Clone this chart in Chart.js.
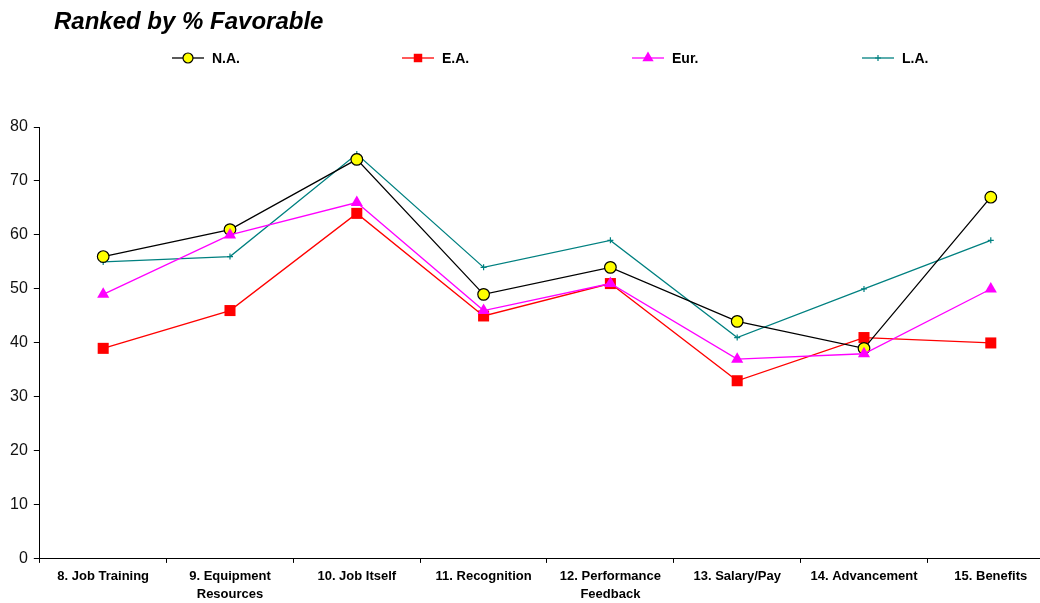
<!DOCTYPE html>
<html>
<head>
<meta charset="utf-8">
<script src="https://cdn.jsdelivr.net/npm/chart.js@4/dist/chart.umd.min.js"></script>
<style>
  html, body { margin:0; padding:0; background:#fff; overflow:hidden; }
  canvas { display:block; }
</style>
</head>
<body>
<canvas id="rankChart" width="1062" height="603"></canvas>
<script>
// ── DATA ──
const categories = [
  '8. Job Training', ['9. Equipment','Resources'], '10. Job Itself', '11. Recognition',
  ['12. Performance','Feedback'], '13. Salary/Pay', '14. Advancement', '15. Benefits'
];
const naValues  = [56, 61, 74, 49, 54, 44, 39, 67];
const eaValues  = [39, 46, 64, 45, 51, 33, 41, 40];
const eurValues = [49, 60, 66, 46, 51, 37, 38, 50];
const laValues  = [55, 56, 75, 54, 59, 41, 50, 59];
const yTicks    = [0, 10, 20, 30, 40, 50, 60, 70, 80];

const FONT = "'Liberation Sans', Arial, sans-serif";

// ── TITLE + LEGEND (drawn on canvas) ──
const headerPlugin = {
  id: 'header',
  afterDraw(chart) {
    const ctx = chart.ctx;
    ctx.save();
    ctx.fillStyle = '#000';
    ctx.font = `italic bold 24px ${FONT}`;
    ctx.textBaseline = 'alphabetic';
    ctx.textAlign = 'left';
    ctx.fillText('Ranked by % Favorable', 54, 29);

    const xs = [172, 402, 632, 862];
    const y  = 58;
    chart.data.datasets.forEach((ds, i) => {
      const x0 = xs[i];
      ctx.strokeStyle = ds.borderColor;
      ctx.lineWidth = 1.3;
      ctx.beginPath();
      ctx.moveTo(x0, y); ctx.lineTo(x0 + 32, y);
      ctx.stroke();
      ctx.fillStyle   = ds.pointBackgroundColor;
      ctx.strokeStyle = ds.pointBorderColor;
      ctx.lineWidth   = ds.pointBorderWidth;
      Chart.helpers.drawPoint(ctx, {
        pointStyle: ds.pointStyle, radius: ds.legendRadius, borderWidth: ds.pointBorderWidth
      }, x0 + 16, y);
      ctx.fillStyle = '#000';
      ctx.font = `bold 14px ${FONT}`;
      ctx.textBaseline = 'middle';
      ctx.fillText(ds.label, x0 + 40, y + 1);
    });
    ctx.restore();
  }
};

function mkSet(label, data, line, style, fill, border, r, lr, bw, order) {
  return {
    label, data, order,
    borderColor: line, borderWidth: 1.3, tension: 0,
    pointStyle: style, pointRadius: r, pointHoverRadius: r,
    pointBackgroundColor: fill, pointBorderColor: border, pointBorderWidth: bw,
    legendRadius: lr, fill: false
  };
}

const datasets = [
  mkSet('N.A.', naValues,  '#000000', 'circle',   '#FFFF00', '#000000', 5.8, 5,   1.2, 1),
  mkSet('E.A.', eaValues,  '#FF0000', 'rect',     '#FF0000', '#FF0000', 7.8, 6,   0.01, 2),
  mkSet('Eur.', eurValues, '#FF00FF', 'triangle', '#FF00FF', '#FF00FF', 7,   6.5, 0.01, 0),
  mkSet('L.A.', laValues,  '#008080', 'cross',    '#008080', '#008080', 3,   3,   1.2, 3)
];

new Chart(document.getElementById('rankChart'), {
  type: 'line',
  data: { labels: categories, datasets },
  plugins: [headerPlugin],
  options: {
    responsive: false,
    animation: false,
    layout: { padding: { top: 127, left: 4, right: 2, bottom: -5 } },
    plugins: { legend: { display: false }, title: { display: false }, tooltip: { enabled: false } },
    scales: {
      x: {
        type: 'category',
        offset: true,
        grid: { display: true, offset: true, drawOnChartArea: false, drawTicks: true, tickLength: 4, color: '#000', lineWidth: 1 },
        border: { display: true, color: '#000', width: 1 },
        ticks: { color: '#000', padding: 5, maxRotation: 0, autoSkip: false,
                 font: { family: FONT, size: 13, weight: 'bold', lineHeight: 1.35 } }
      },
      y: {
        min: 0, max: 80,
        afterBuildTicks: s => { s.ticks = yTicks.map(v => ({ value: v })); },
        grid: { display: true, drawOnChartArea: false, drawTicks: true, tickLength: 6, color: '#000', lineWidth: 1 },
        border: { display: true, color: '#000', width: 1 },
        ticks: { color: '#111', padding: 6, font: { family: FONT, size: 16 } }
      }
    }
  }
});
</script>
</body>
</html>
